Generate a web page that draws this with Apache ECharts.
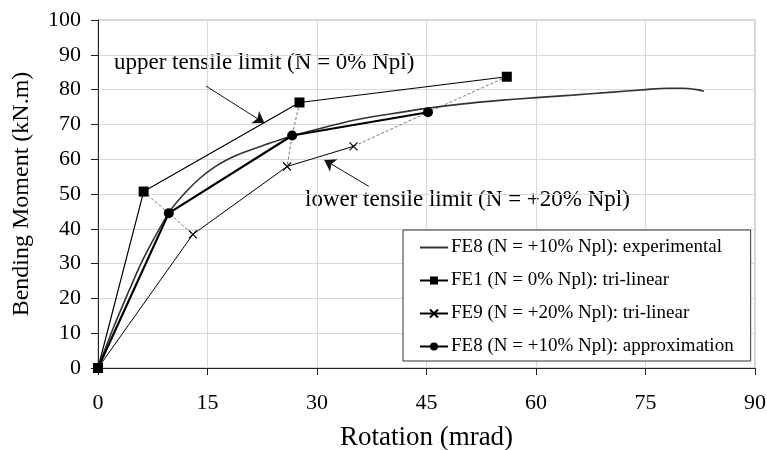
<!DOCTYPE html>
<html>
<head>
<meta charset="utf-8">
<script src="https://cdn.jsdelivr.net/npm/echarts@6/dist/echarts.min.js"></script>
<style>
  html, body { margin: 0; padding: 0; background: #fff; }
  #chart { width: 767px; height: 450px; }
</style>
</head>
<body>
<div id="chart"></div>
<script>
// values: [rotation (mrad), moment (kN.m)]
var experimental = [
  [0, 0], [2, 11], [4, 21], [6, 30.5], [8, 38.5], [10, 45.5], [12, 50.5],
  [14, 54.6], [16, 57.8], [18, 60.2], [20, 62], [23, 64.2], [26, 66.3],
  [30, 68.6], [35, 71.2], [40, 73], [45, 74.6], [50, 75.9], [55, 76.9],
  [60, 77.7], [65, 78.4], [70, 79.2], [75, 80], [78, 80.4], [80, 80.4],
  [82, 80], [83, 79.5]
];
var fe1TriLinear = [[0, 0], [6.25, 50.7], [27.6, 76.3], [56, 83.7]];
var fe9TriLinear = [[0, 0], [13, 38.4], [25.9, 57.9], [35, 63.7]];
var fe8Approx = [[0, 0], [9.7, 44.5], [26.6, 66.8], [45.2, 73.5]];

var xTicks = [0, 15, 30, 45, 60, 75, 90];

// annotation arrows (from text to curve)
var upperArrow = [[14.8, 81], [22.8, 70.4]];
var lowerArrow = [[37.1, 52.2], [31.0, 59.8]];

var names = [
  "FE8 (N = +10% Npl): experimental",
  "FE1 (N = 0% Npl): tri-linear",
  "FE9 (N = +20% Npl): tri-linear",
  "FE8 (N = +10% Npl): approximation"
];

var serif = "Liberation Serif";

// dotted connectors square -> circle -> cross at each break point
var connectors = [1, 2, 3].map(function (i) {
  return {
    type: "line",
    data: [fe1TriLinear[i], fe8Approx[i], fe9TriLinear[i]],
    symbol: "none",
    silent: true,
    z: 1,
    lineStyle: { color: "#777", width: 1, type: [3, 2] }
  };
});

var chart = echarts.init(document.getElementById("chart"));
chart.setOption({
  animation: false,
  textStyle: { fontFamily: serif },
  grid: {
    left: 98, right: 12, top: 20, bottom: 82,
    outerBoundsMode: "none",
    show: true, borderColor: "#aaa", borderWidth: 1
  },
  legend: {
    data: [
      { name: names[0], itemStyle: { opacity: 0 } },
      names[1], names[2], names[3]
    ],
    orient: "vertical",
    left: 403, top: 230,
    padding: [8, 17, 5, 16],
    itemGap: 14,
    itemWidth: 28, itemHeight: 10,
    backgroundColor: "#fff",
    borderColor: "#333",
    borderWidth: 1,
    borderRadius: 0,
    textStyle: { fontFamily: serif, fontSize: 19, color: "#000", padding: [0, 0, 0, -2] }
  },
  xAxis: {
    type: "value",
    min: 0, max: 90, interval: 15,
    name: "Rotation (mrad)",
    nameLocation: "middle",
    nameGap: 56,
    nameTextStyle: { fontFamily: serif, fontSize: 27, color: "#000" },
    axisLine: { lineStyle: { color: "#222", width: 1 } },
    axisTick: { show: true, length: 7, inside: false, lineStyle: { color: "#222" } },
    axisLabel: { fontFamily: serif, fontSize: 22, color: "#000", margin: 24,
      formatter: function (v) { return xTicks.indexOf(v) >= 0 ? v : ""; } },
    splitLine: { show: true, lineStyle: { color: "#d9d9d9" } }
  },
  yAxis: {
    type: "value",
    min: 0, max: 100, interval: 10,
    name: "Bending Moment (kN.m)",
    nameLocation: "middle",
    nameGap: 64,
    nameTextStyle: { fontFamily: serif, fontSize: 24, color: "#000" },
    axisLine: { show: true, lineStyle: { color: "#222", width: 1 } },
    axisTick: { show: true, length: 7, inside: false, lineStyle: { color: "#222" } },
    axisLabel: { fontFamily: serif, fontSize: 22, color: "#000", margin: 17 },
    splitLine: { show: true, lineStyle: { color: "#d9d9d9" } }
  },
  graphic: [
    { type: "text", left: 114, top: 51,
      style: { text: "upper tensile limit (N = 0% Npl)", font: "23px " + serif, fill: "#000" } },
    { type: "text", left: 305, top: 188,
      style: { text: "lower tensile limit (N = +20% Npl)", font: "23px " + serif, fill: "#000" } }
  ],
  series: connectors.concat([
    {
      name: names[0],
      type: "line",
      data: experimental,
      smooth: 0.3,
      symbol: "none",
      z: 3,
      lineStyle: { color: "#333", width: 1.6 },
      itemStyle: { color: "#333" }
    },
    {
      name: names[1],
      type: "line",
      data: fe1TriLinear,
      symbol: "rect",
      symbolSize: 10,
      z: 4,
      lineStyle: { color: "#000", width: 1.2 },
      itemStyle: { color: "#000" },
      markLine: {
        silent: true,
        symbol: ["none", "arrow"],
        symbolSize: 11,
        label: { show: false },
        lineStyle: { color: "#111", width: 1, type: "solid" },
        data: [
          [{ coord: upperArrow[0] }, { coord: upperArrow[1] }],
          [{ coord: lowerArrow[0] }, { coord: lowerArrow[1] }]
        ]
      }
    },
    {
      name: names[2],
      type: "line",
      data: fe9TriLinear,
      symbol: "path://M0,0L10,10M10,0L0,10",
      symbolSize: 8,
      z: 4,
      lineStyle: { color: "#000", width: 1 },
      itemStyle: { color: "#000", borderColor: "#000", borderWidth: 1.2 }
    },
    {
      name: names[3],
      type: "line",
      data: fe8Approx,
      symbol: "circle",
      symbolSize: 10,
      z: 5,
      lineStyle: { color: "#000", width: 2.2 },
      itemStyle: { color: "#000" }
    }
  ])
});
</script>
</body>
</html>
